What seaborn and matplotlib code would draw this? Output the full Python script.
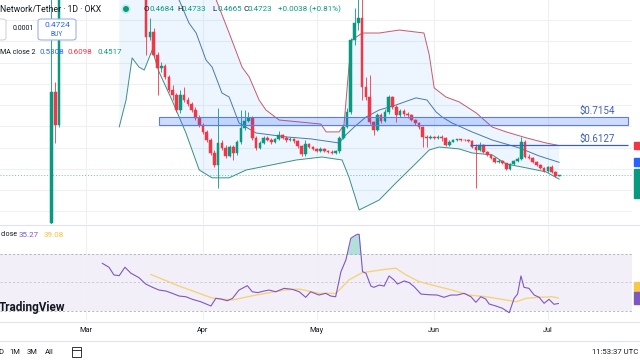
import numpy as np
import pandas as pd
import matplotlib
matplotlib.use("Agg")
import matplotlib.pyplot as plt
from matplotlib.patches import Rectangle, FancyBboxPatch, Ellipse
from matplotlib.lines import Line2D
import seaborn as sns

# ------------------------------------------------------------------ data
# x = days since 1 March; daily candles 20 Feb .. 4 Jul
days = list(range(-9, 126))

opens = [
    0.246, 0.862, 0.707,
    1.55, 1.72, 1.97, 1.85, 2.05, 2.19, 2.00, 1.92, 1.98, 1.83,
    1.76, 1.81, 1.68, 1.61, 1.52, 1.58, 1.65, 1.55, 1.48, 1.54,
    1.50, 1.46,
    1.40, 1.120, 1.144, 1.036, 0.975, 0.984, 0.932, 0.871, 0.848, 0.777,
    0.848, 0.824, 0.805, 0.777, 0.740, 0.707, 0.674, 0.636, 0.575, 0.519,
    0.622, 0.599, 0.561, 0.603, 0.575, 0.627, 0.693, 0.725, 0.740, 0.646,
    0.599, 0.622, 0.646, 0.636, 0.627, 0.641, 0.660, 0.646, 0.636, 0.641,
    0.632, 0.608, 0.570, 0.617, 0.603, 0.594, 0.585, 0.594, 0.585, 0.580,
    0.577, 0.585, 0.646, 0.697, 0.768, 1.106, 1.186, 1.210, 0.885, 0.838,
    0.721, 0.683, 0.754, 0.725, 0.768, 0.838, 0.791, 0.754, 0.773, 0.758,
    0.754, 0.730, 0.716, 0.697, 0.650, 0.646, 0.650, 0.646, 0.650, 0.646,
    0.613, 0.627, 0.636, 0.639, 0.636, 0.634, 0.632, 0.603, 0.589, 0.613,
    0.580, 0.566, 0.552, 0.533, 0.538, 0.526, 0.500, 0.523, 0.538, 0.547,
    0.627, 0.556, 0.552, 0.533, 0.519, 0.505, 0.489, 0.507, 0.486, 0.4684,
]
closes = [
    0.862, 0.707, 1.55,
    1.72, 1.97, 1.85, 2.05, 2.19, 2.00, 1.92, 1.98, 1.83, 1.76,
    1.81, 1.68, 1.61, 1.52, 1.58, 1.65, 1.55, 1.48, 1.54, 1.50,
    1.46, 1.40,
    1.120, 1.144, 1.036, 0.975, 0.984, 0.932, 0.871, 0.848, 0.777, 0.848,
    0.824, 0.805, 0.777, 0.740, 0.707, 0.674, 0.636, 0.575, 0.519, 0.622,
    0.599, 0.561, 0.603, 0.575, 0.627, 0.693, 0.725, 0.740, 0.646, 0.599,
    0.622, 0.646, 0.636, 0.627, 0.641, 0.660, 0.646, 0.636, 0.641, 0.632,
    0.608, 0.570, 0.617, 0.603, 0.594, 0.585, 0.594, 0.585, 0.580, 0.577,
    0.585, 0.646, 0.697, 0.768, 1.106, 1.186, 1.210, 0.885, 0.838, 0.721,
    0.683, 0.754, 0.725, 0.768, 0.838, 0.791, 0.754, 0.773, 0.758, 0.754,
    0.730, 0.716, 0.697, 0.650, 0.646, 0.650, 0.646, 0.650, 0.646, 0.613,
    0.627, 0.636, 0.639, 0.636, 0.634, 0.632, 0.603, 0.589, 0.613, 0.580,
    0.566, 0.552, 0.533, 0.538, 0.526, 0.500, 0.523, 0.538, 0.547, 0.627,
    0.556, 0.552, 0.533, 0.519, 0.505, 0.489, 0.507, 0.486, 0.4684, 0.4723,
]
highs = [
    1.40, 0.909, 1.70,
    1.90, 2.05, 2.03, 2.16, 2.32, 2.24, 2.07, 2.05, 2.00, 1.87,
    1.89, 1.83, 1.72, 1.64, 1.62, 1.70, 1.67, 1.58, 1.59, 1.56,
    1.53, 1.48,
    1.44, 1.210, 1.163, 1.050, 1.003, 0.993, 0.942, 0.895, 0.857, 0.871,
    0.885, 0.838, 0.815, 0.791, 0.754, 0.716, 0.683, 0.646, 0.589, 0.787,
    0.636, 0.613, 0.613, 0.613, 0.636, 0.777, 0.777, 0.768, 0.749, 0.655,
    0.632, 0.655, 0.655, 0.646, 0.646, 0.679, 0.664, 0.655, 0.650, 0.646,
    0.636, 0.613, 0.636, 0.622, 0.608, 0.599, 0.603, 0.599, 0.589, 0.589,
    0.589, 0.655, 0.707, 0.787, 1.116, 1.257, 1.36, 1.38, 0.932, 0.942,
    0.725, 0.763, 0.763, 0.782, 0.848, 0.843, 0.801, 0.782, 0.782, 0.768,
    0.758, 0.735, 0.721, 0.702, 0.660, 0.660, 0.655, 0.660, 0.660, 0.650,
    0.636, 0.641, 0.641, 0.641, 0.641, 0.639, 0.636, 0.617, 0.627, 0.617,
    0.585, 0.570, 0.556, 0.547, 0.542, 0.528, 0.528, 0.542, 0.556, 0.650,
    0.636, 0.570, 0.556, 0.538, 0.523, 0.509, 0.514, 0.519, 0.490, 0.4733,
]
lows = [
    0.243, 0.622, 0.697,
    1.50, 1.68, 1.78, 1.81, 2.00, 1.94, 1.86, 1.88, 1.79, 1.70,
    1.72, 1.64, 1.57, 1.48, 1.49, 1.55, 1.52, 1.44, 1.46, 1.46,
    1.42, 1.36,
    1.036, 1.106, 1.026, 0.848, 0.956, 0.923, 0.862, 0.824, 0.768, 0.763,
    0.815, 0.796, 0.768, 0.730, 0.697, 0.664, 0.627, 0.566, 0.509, 0.411,
    0.589, 0.552, 0.556, 0.542, 0.566, 0.617, 0.683, 0.721, 0.636, 0.589,
    0.594, 0.617, 0.632, 0.617, 0.622, 0.636, 0.641, 0.627, 0.632, 0.622,
    0.599, 0.561, 0.561, 0.599, 0.589, 0.580, 0.580, 0.580, 0.575, 0.570,
    0.570, 0.575, 0.641, 0.693, 0.758, 1.083, 1.153, 0.824, 0.824, 0.711,
    0.660, 0.679, 0.716, 0.721, 0.758, 0.782, 0.721, 0.744, 0.749, 0.740,
    0.725, 0.707, 0.688, 0.603, 0.603, 0.641, 0.641, 0.641, 0.632, 0.608,
    0.608, 0.627, 0.632, 0.632, 0.629, 0.627, 0.599, 0.411, 0.585, 0.575,
    0.561, 0.547, 0.528, 0.528, 0.523, 0.495, 0.495, 0.519, 0.533, 0.542,
    0.552, 0.547, 0.528, 0.514, 0.500, 0.484, 0.486, 0.481, 0.463, 0.4665,
]

# Bollinger Bands (20, 2)
bb_up_day = [8.9, 15.0, 20.0, 25.0, 30.0, 34.5, 37.9, 41.3, 43.2, 45.8, 47.6, 51.1, 56.3,
             62.1, 63.5, 66.9, 68.2, 69.5, 70.3, 73.0, 77.5, 82.8, 89.3, 90.7, 92.0, 95.1,
             98.6, 103.1, 107.3, 111.0, 116.3, 121.5, 125.0]
bb_up_val = [2.60, 2.35, 2.10, 1.85, 1.58, 1.294, 1.139, 0.979, 0.932, 0.824, 0.777, 0.730, 0.721,
             0.711, 0.674, 0.674, 0.707, 0.979, 1.106, 1.139, 1.139, 1.153, 1.139, 1.036, 0.881, 0.838,
             0.815, 0.763, 0.697, 0.674, 0.646, 0.622, 0.6098]
bb_mid_day = [8.9, 15.0, 20.0, 24.7, 27.3, 29.2, 31.8, 33.4, 36.0, 37.9, 40.5, 45.0, 53.2, 59.5,
              66.9, 68.7, 70.9, 74.0, 77.5, 82.0, 87.2, 90.1, 92.5, 94.1, 96.7, 102.0, 107.3,
              114.4, 119.7, 125.0]
bb_mid_val = [1.65, 1.62, 1.50, 1.294, 1.186, 1.139, 1.012, 0.979, 0.857, 0.838, 0.716, 0.669, 0.650, 0.641,
              0.622, 0.660, 0.697, 0.744, 0.777, 0.801, 0.834, 0.824, 0.768, 0.744, 0.716, 0.674, 0.636,
              0.599, 0.561, 0.5308]
bb_lo_day = [8.9, 10.7, 12.3, 14.1, 15.5, 17.6, 19.4, 22.8, 26.5, 30.0, 33.4, 37.9, 42.4, 49.2,
             55.6, 62.4, 67.7, 69.5, 71.4, 72.2, 77.5, 81.9, 86.2, 90.7, 93.3, 98.6, 102.0,
             107.3, 111.0, 116.3, 121.5, 125.0]
bb_lo_val = [0.697, 0.824, 1.022, 0.979, 0.965, 1.059, 0.956, 0.824, 0.669, 0.495, 0.458, 0.458, 0.495, 0.519,
             0.542, 0.556, 0.542, 0.462, 0.354, 0.307, 0.354, 0.434, 0.509, 0.589, 0.603, 0.594, 0.575,
             0.566, 0.523, 0.505, 0.486, 0.4517]

# RSI 14 and its moving average
rsi_day = [4.4, 6.2, 7.5, 8.9, 10.4, 12.0, 14.1, 15.9, 17.7, 19.4, 21.2, 22.9, 24.7, 26.5, 28.2,
           30.4, 33.1, 34.4, 35.7, 37.4, 38.8, 40.5, 42.7, 44.0, 45.4, 47.1, 48.4, 50.2, 52.4,
           54.6, 56.4, 58.1, 59.4, 61.6, 63.4, 64.7, 66.0, 67.4, 68.7, 70.0, 70.9, 71.7, 72.2,
           73.1, 74.0, 75.3, 76.1, 77.5, 78.8, 80.1, 81.4, 82.3, 84.1, 85.4, 86.7, 88.5, 90.7,
           92.8, 94.6, 96.4, 98.1, 99.9, 101.7, 103.0, 104.3, 105.6, 106.5, 108.3, 110.0, 111.8,
           113.1, 114.0, 114.9, 115.7, 117.0, 118.4, 119.7, 121.0, 122.3, 123.6, 124.8]
rsi_val = [63.5, 60.7, 55.3, 54.8, 60.7, 56.5, 53.4, 48.9, 46.6, 44.7, 44.0, 42.4, 40.5, 40.0, 38.2,
           36.5, 33.5, 38.9, 38.4, 37.2, 38.9, 44.7, 47.8, 43.5, 42.9, 44.0, 44.7, 43.5, 45.9,
           45.2, 43.5, 39.6, 43.5, 41.2, 42.4, 40.5, 40.0, 57.6, 65.8, 81.0, 82.6, 83.8, 83.8,
           57.6, 56.5, 47.5, 46.6, 48.2, 47.5, 54.6, 51.8, 48.9, 51.1, 49.9, 47.1, 41.9, 41.4,
           41.2, 39.6, 41.2, 41.2, 42.4, 40.0, 36.1, 40.0, 38.4, 34.9, 33.5, 31.9, 28.8,
           38.9, 41.9, 54.6, 46.6, 45.9, 41.2, 39.6, 35.4, 38.2, 34.7, 35.27]
rsi_ma_day = [17.2, 24.7, 33.4, 38.7, 45.0, 52.5, 56.4, 61.6, 66.1, 69.5, 73.0, 79.3, 81.9, 84.6,
              88.0, 92.5, 96.7, 101.2, 105.7, 111.0, 113.7, 116.3, 119.7, 123.1, 124.8]
rsi_ma_val = [55.7, 47.5, 39.1, 37.7, 41.2, 44.7, 45.4, 42.4, 42.4, 51.8, 56.9, 59.3, 60.0, 55.3,
              50.6, 47.5, 44.7, 41.2, 40.0, 37.7, 36.5, 38.9, 39.6, 40.0, 39.08]

# drawn levels
zone_days = [19.4, 143.1]
zone_price = [0.707, 0.744]
zone_label = "$0.7154"
level_days = [101.4, 143.1]
level_price = 0.6127
level_label = "$0.6127"
last_price = 0.4723

month_days = [0, 31, 61, 92, 122]
month_labels = ["Mar", "Apr", "May", "Jun", "Jul"]
price_ticks = [0.3, 0.4, 0.5, 0.6, 0.7, 0.8, 0.9, 1.0, 1.1, 1.2]

# ------------------------------------------------------------------ style
UP, DOWN, DARK = "#089981", "#f23645", "#131722"
BLUE = "#2962ff"
sns.set_theme(style="white")
plt.rcParams["font.family"] = ["Roboto", "DejaVu Sans"]
plt.rcParams["axes.unicode_minus"] = False

W, H = 640, 360
fig = plt.figure(figsize=(W / 100, H / 100), dpi=100, facecolor="white")


def fx(x):
    return x / W


def fy(y):
    return 1 - y / H


XL = (-85.5 / 3.79, (632 - 85.5) / 3.79)
ax = fig.add_axes([0, fy(224), 632 / W, 224 / H])
axr = fig.add_axes([0, fy(320), 632 / W, 95 / H])

for a in (ax, axr):
    a.set_facecolor("white")
    for s in a.spines.values():
        s.set_visible(False)
    a.set_xlim(*XL)
    a.set_xticks(month_days)
    a.grid(False)
    a.xaxis.grid(True, color="#eef0f6", lw=0.8)
    a.set_axisbelow(True)

# ------------------------------------------------------------------ price pane
ax.set_ylim(0.241, 1.2942)
ax.set_yticks(price_ticks)
ax.yaxis.grid(True, color="#eef0f6", lw=0.8)
ax.tick_params(axis="y", length=0, labelleft=False, labelright=False)
ax.tick_params(axis="x", length=0, labelbottom=False)

up_d, up_v = np.array(bb_up_day), np.array(bb_up_val)
lo_d, lo_v = np.array(bb_lo_day), np.array(bb_lo_val)
ax.fill(np.r_[up_d, lo_d[::-1]], np.r_[up_v, lo_v[::-1]], color="#2196f3", alpha=0.08, lw=0, zorder=1)
sns.lineplot(x=bb_up_day, y=bb_up_val, ax=ax, color="#c65a6a", lw=0.7, estimator=None, sort=False, zorder=3)
sns.lineplot(x=bb_mid_day, y=bb_mid_val, ax=ax, color="#4a78b2", lw=0.7, estimator=None, sort=False, zorder=3)
sns.lineplot(x=bb_lo_day, y=bb_lo_val, ax=ax, color="#3a9080", lw=0.7, estimator=None, sort=False, zorder=3)

ax.axhline(last_price, color=UP, lw=0.7, ls=(0, (1, 2)), alpha=0.6, zorder=2)

df = pd.DataFrame(dict(day=days, open=opens, high=highs, low=lows, close=closes))
rising = (df["close"] >= df["open"]).to_numpy()
col = np.where(rising, UP, DOWN)
ax.vlines(df["day"], df["low"], df["high"], colors=col, lw=0.6, zorder=4)
body_lo = np.minimum(df["open"], df["close"])
body_h = (df["close"] - df["open"]).abs()
ax.bar(df["day"], body_h, bottom=body_lo, width=0.7, color=col, edgecolor=col, linewidth=0.35, zorder=5)

ax.add_patch(Rectangle((zone_days[0], zone_price[0]), zone_days[1] - zone_days[0],
                       zone_price[1] - zone_price[0], facecolor=(0.16, 0.38, 1.0, 0.22),
                       edgecolor="#5b7ee0", lw=0.8, zorder=6))
ax.hlines(level_price, level_days[0], level_days[1], color="#3b5fc8", lw=0.9, zorder=6)
ax.set_xlabel("")
ax.set_ylabel("")

# ------------------------------------------------------------------ RSI pane
axr.set_ylim(23.68, 90.35)
axr.axhspan(30, 70, color="#7e57c2", alpha=0.09, lw=0, zorder=0)
for v, al in ((70, 0.8), (50, 0.5), (30, 0.8)):
    axr.axhline(v, color="#9598a1", lw=0.6, ls=(0, (2.5, 2.5)), alpha=al, zorder=1)
rsi_arr = np.array(rsi_val)
axr.fill_between(rsi_day, rsi_val, 70, where=rsi_arr > 70, interpolate=True,
                 color="#26a69a", alpha=0.35, lw=0, zorder=2)
sns.lineplot(x=rsi_ma_day, y=rsi_ma_val, ax=axr, color="#f5d37a", lw=1.0, estimator=None, sort=False, zorder=3)
sns.lineplot(x=rsi_day, y=rsi_val, ax=axr, color="#7e57c2", lw=0.8, estimator=None, sort=False, zorder=4)
axr.set_yticks([])
axr.set_xticklabels(month_labels, fontsize=5.3, color=DARK)
axr.tick_params(axis="x", length=0, pad=5)
axr.set_xlabel("")
axr.set_ylabel("")

# ------------------------------------------------------------------ overlay texts / chrome
for yy in (224.5, 321.5, 340.5):
    fig.add_artist(Line2D([0, 1], [fy(yy), fy(yy)], color="#e0e3eb", lw=0.8, transform=fig.transFigure))

fig.text(fx(0), fy(9), "Network/Tether · 1D · OKX", fontsize=6.2, color=DARK, va="center")
fig.add_artist(Ellipse((fx(126), fy(9)), 8 / W, 8 / H, transform=fig.transFigure, color="#c8ebe6", zorder=5))
fig.add_artist(Ellipse((fx(126), fy(9)), 4.5 / W, 4.5 / H, transform=fig.transFigure, color=UP, zorder=6))
for txt, xx, c in [("O", 144, DARK), ("0.4684", 149, UP), ("H", 177, DARK), ("0.4733", 182, UP),
                   ("L", 212, DARK), ("0.4665", 217, UP), ("C", 243, DARK), ("0.4723", 248, UP),
                   ("+0.0038 (+0.81%)", 278, UP)]:
    fig.text(fx(xx), fy(9), txt, fontsize=5.8, color=c, va="center")

fig.add_artist(FancyBboxPatch((fx(-40), fy(40)), 46 / W, 21 / H, boxstyle="round,pad=0,rounding_size=0.006",
                              transform=fig.transFigure, facecolor="white", edgecolor="#d1d4dc", lw=0.8, zorder=5))
fig.text(fx(13), fy(29), "0.0001", fontsize=5.0, color=DARK, va="center", zorder=6)
fig.add_artist(FancyBboxPatch((fx(38), fy(40)), 38 / W, 21 / H, boxstyle="round,pad=0,rounding_size=0.006",
                              transform=fig.transFigure, facecolor="white", edgecolor="#9fb2ea", lw=0.8, zorder=5))
fig.text(fx(57), fy(25), "0.4724", fontsize=6.0, color=BLUE, ha="center", va="center", zorder=6)
fig.text(fx(57), fy(34.5), "BUY", fontsize=4.8, color=BLUE, ha="center", va="center", zorder=6)

fig.text(fx(0.5), fy(52), "MA close 2", fontsize=5.1, color=DARK, ha="left", va="center")
for txt, xx, c in [("0.5308", 40, BLUE), ("0.6098", 68, DOWN), ("0.4517", 97, UP)]:
    fig.text(fx(xx), fy(52), txt, fontsize=5.8, color=c, va="center")

fig.text(fx(580), fy(110.5), zone_label, fontsize=7.0, color="#3f5fbf", va="center")
fig.text(fx(580), fy(138.5), level_label, fontsize=7.0, color="#3f5fbf", va="center")

fig.text(fx(0.5), fy(235), "close", fontsize=5.1, color=DARK, ha="left", va="center")
fig.text(fx(19), fy(235), "35.27", fontsize=5.8, color="#7e57c2", va="center")
fig.text(fx(44), fy(235), "39.08", fontsize=5.8, color="#f0c43c", va="center")

fig.text(fx(-1), fy(308), "TradingView", fontsize=8.5, fontweight="bold", color=DARK, va="center", zorder=7)

for y0, y1, c in [(142, 149, DOWN), (158, 166, BLUE), (169, 198, UP), (282, 292, "#f7c948"), (292, 304, "#7e57c2")]:
    fig.add_artist(Rectangle((fx(634), fy(y1)), 10 / W, (y1 - y0) / H, transform=fig.transFigure,
                             color=c, zorder=8))

fig.text(fx(3.5), fy(352), "D", fontsize=5.5, color=DARK, ha="right", va="center")
for txt, xx in [("1M", 9), ("3M", 27), ("All", 45)]:
    fig.text(fx(xx), fy(352), txt, fontsize=5.5, color=DARK, va="center")
fig.add_artist(Rectangle((fx(72), fy(357)), 9 / W, 10 / H, transform=fig.transFigure,
                         fill=False, edgecolor=DARK, lw=0.6))
fig.add_artist(Line2D([fx(72), fx(81)], [fy(350), fy(350)], color=DARK, lw=0.6, transform=fig.transFigure))
fig.text(fx(592), fy(352), "11:53:37 UTC", fontsize=5.6, color=DARK, va="center")

fig.savefig("out.png", dpi=100, facecolor="white")
